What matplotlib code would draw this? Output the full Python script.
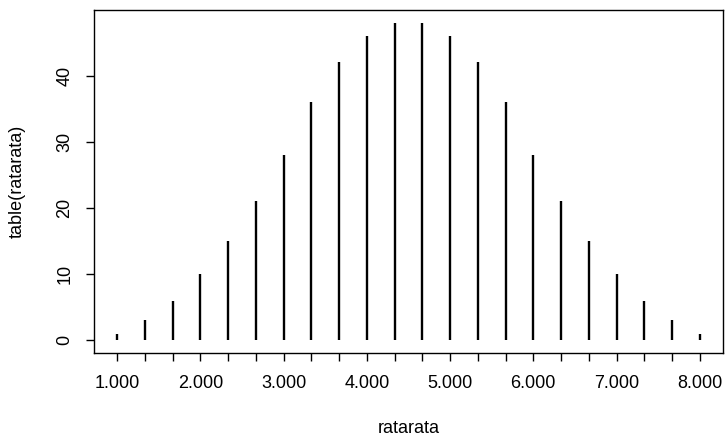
import numpy as np
import matplotlib.pyplot as plt

plt.rcParams['font.family'] = ['Liberation Sans', 'DejaVu Sans']

# -------- Data: table(ratarata) --------
ratarata_levels = [1.0, 4/3, 5/3, 2.0, 7/3, 8/3, 3.0, 10/3, 11/3, 4.0, 13/3,
                   14/3, 5.0, 16/3, 17/3, 6.0, 19/3, 20/3, 7.0, 22/3, 23/3, 8.0]
counts = [1, 3, 6, 10, 15, 21, 28, 36, 42, 46, 48,
          48, 46, 42, 36, 28, 21, 15, 10, 6, 3, 1]
y_ticks = [0, 10, 20, 30, 40]

pos = np.arange(1, len(counts) + 1)
labels = [f'{v:.3f}' if i % 3 == 0 else '' for i, v in enumerate(ratarata_levels)]

fig = plt.figure(figsize=(7.25, 4.41), dpi=100)
ax = fig.add_axes([94/725, 1 - 353/441, (723 - 94)/725, (353 - 10)/441])

ax.vlines(pos, 0, counts, colors='black', linewidth=1.7)

# R style 4% padding
n = len(counts)
ax.set_xlim(1 - 0.04*(n - 1), n + 0.04*(n - 1))
ax.set_ylim(-0.04*max(counts), max(counts)*1.04)

fs = 13
ax.set_xticks(pos)
ax.set_xticklabels(labels, fontsize=fs)
ax.set_yticks(y_ticks)
ax.set_yticklabels([str(t) for t in y_ticks], fontsize=fs, rotation=90, va='center')
ax.tick_params(axis='x', length=6, pad=10, width=1)
ax.tick_params(axis='y', length=6, pad=9, width=1)

for s in ax.spines.values():
    s.set_linewidth(1)

ax.set_xlabel('ratarata', fontsize=fs, labelpad=20)
ax.set_ylabel('table(ratarata)', fontsize=fs, labelpad=22)

fig.savefig('out.png', dpi=100)
